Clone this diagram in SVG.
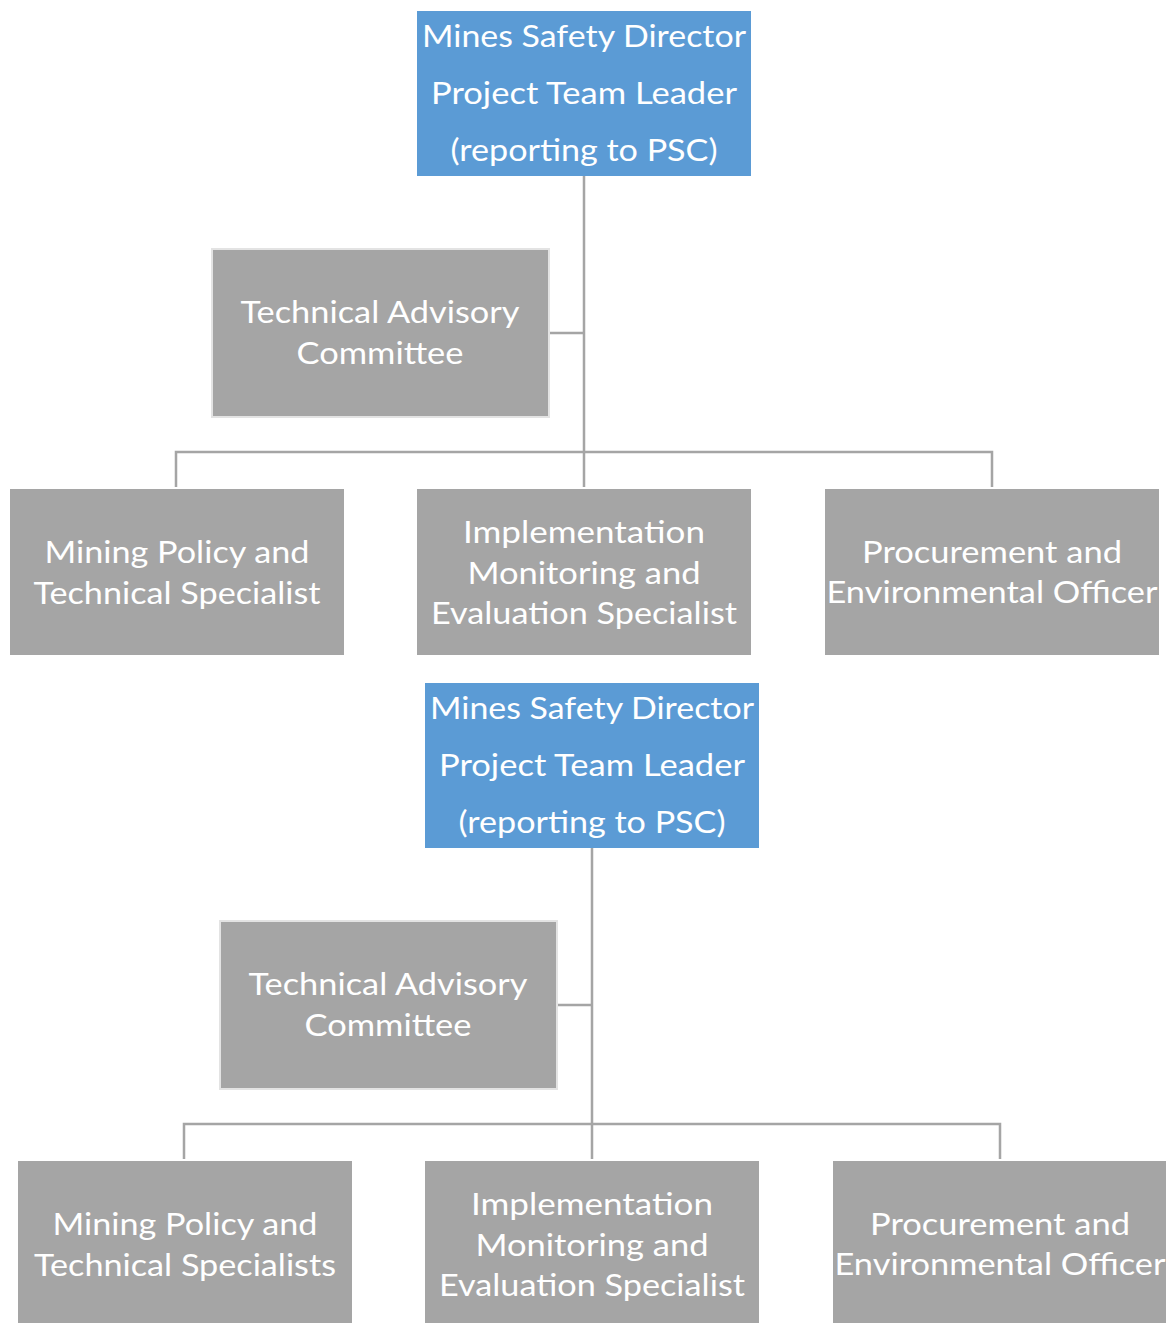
<svg xmlns="http://www.w3.org/2000/svg" width="1166" height="1323" viewBox="0 0 1166 1323">
  <style>
    .lead { fill: #5B9BD5; }
    .unit { fill: #A5A5A5; }
    .committee { fill: #A5A5A5; stroke: #E3E3E3; stroke-width: 2; }
    .link { fill: none; stroke: #A5A5A5; stroke-width: 2.5; }
    text { font-family: Lato, "Open Sans", "Liberation Sans", sans-serif; font-size: 31px; fill: #FFFFFF; text-anchor: middle; }
  </style>
  <rect width="1166" height="1323" fill="#FFFFFF"/>

  <!-- First organisation chart -->
  <g id="chart-a">
    <g id="a-connectors">
      <path class="link" d="M584 176 V487"/>
      <path class="link" d="M549 333 H584"/>
      <path class="link" d="M176 487 V452 H992 V487"/>
    </g>
    <g id="a-director">
      <rect class="lead" x="417" y="11" width="334" height="165"/>
      <text x="584" y="47" textLength="324" lengthAdjust="spacingAndGlyphs">Mines Safety Director</text>
      <text x="584" y="104" textLength="306" lengthAdjust="spacingAndGlyphs">Project Team Leader</text>
      <text x="584" y="161" textLength="267" lengthAdjust="spacingAndGlyphs">(reporting to PSC)</text>
    </g>
    <g id="a-advisory">
      <rect class="committee" x="212" y="249" width="337" height="168"/>
      <text x="380" y="323" textLength="279" lengthAdjust="spacingAndGlyphs">Technical Advisory</text>
      <text x="380" y="364" textLength="167" lengthAdjust="spacingAndGlyphs">Committee</text>
    </g>
    <g id="a-policy">
      <rect class="unit" x="10" y="489" width="334" height="166"/>
      <text x="177" y="563" textLength="265" lengthAdjust="spacingAndGlyphs">Mining Policy and</text>
      <text x="177" y="604" textLength="287" lengthAdjust="spacingAndGlyphs">Technical Specialist</text>
    </g>
    <g id="a-monitoring">
      <rect class="unit" x="417" y="489" width="334" height="166"/>
      <text x="584" y="543" textLength="242" lengthAdjust="spacingAndGlyphs">Implementation</text>
      <text x="584" y="584" textLength="233" lengthAdjust="spacingAndGlyphs">Monitoring and</text>
      <text x="584" y="624" textLength="306" lengthAdjust="spacingAndGlyphs">Evaluation Specialist</text>
    </g>
    <g id="a-procurement">
      <rect class="unit" x="825" y="489" width="334" height="166"/>
      <text x="992" y="563" textLength="260" lengthAdjust="spacingAndGlyphs">Procurement and</text>
      <text x="992" y="603" textLength="331" lengthAdjust="spacingAndGlyphs">Environmental Officer</text>
    </g>
  </g>

  <!-- Second organisation chart -->
  <g id="chart-b">
    <g id="b-connectors">
      <path class="link" d="M592 848 V1159"/>
      <path class="link" d="M557 1005 H592"/>
      <path class="link" d="M184 1159 V1124 H1000 V1159"/>
    </g>
    <g id="b-director">
      <rect class="lead" x="425" y="683" width="334" height="165"/>
      <text x="592" y="719" textLength="324" lengthAdjust="spacingAndGlyphs">Mines Safety Director</text>
      <text x="592" y="776" textLength="306" lengthAdjust="spacingAndGlyphs">Project Team Leader</text>
      <text x="592" y="833" textLength="267" lengthAdjust="spacingAndGlyphs">(reporting to PSC)</text>
    </g>
    <g id="b-advisory">
      <rect class="committee" x="220" y="921" width="337" height="168"/>
      <text x="388" y="995" textLength="279" lengthAdjust="spacingAndGlyphs">Technical Advisory</text>
      <text x="388" y="1036" textLength="167" lengthAdjust="spacingAndGlyphs">Committee</text>
    </g>
    <g id="b-policy">
      <rect class="unit" x="18" y="1161" width="334" height="166"/>
      <text x="185" y="1235" textLength="265" lengthAdjust="spacingAndGlyphs">Mining Policy and</text>
      <text x="185" y="1276" textLength="302" lengthAdjust="spacingAndGlyphs">Technical Specialists</text>
    </g>
    <g id="b-monitoring">
      <rect class="unit" x="425" y="1161" width="334" height="166"/>
      <text x="592" y="1215" textLength="242" lengthAdjust="spacingAndGlyphs">Implementation</text>
      <text x="592" y="1256" textLength="233" lengthAdjust="spacingAndGlyphs">Monitoring and</text>
      <text x="592" y="1296" textLength="306" lengthAdjust="spacingAndGlyphs">Evaluation Specialist</text>
    </g>
    <g id="b-procurement">
      <rect class="unit" x="833" y="1161" width="334" height="166"/>
      <text x="1000" y="1235" textLength="260" lengthAdjust="spacingAndGlyphs">Procurement and</text>
      <text x="1000" y="1275" textLength="331" lengthAdjust="spacingAndGlyphs">Environmental Officer</text>
    </g>
  </g>
</svg>
